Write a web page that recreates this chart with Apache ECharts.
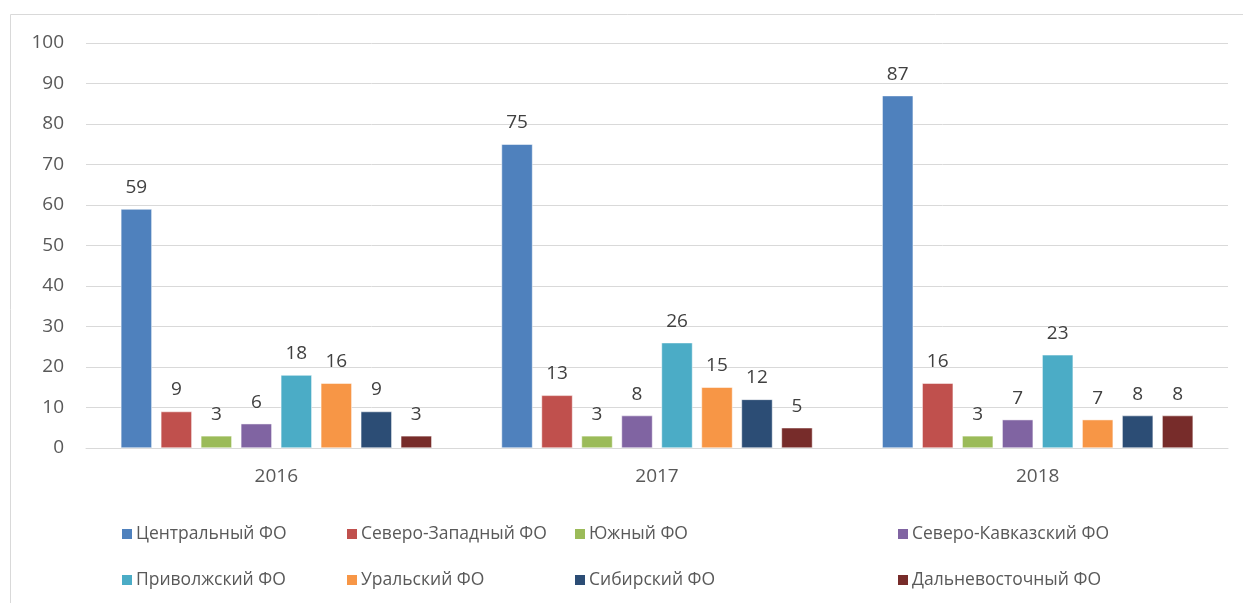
<!DOCTYPE html>
<html>
<head>
<meta charset="utf-8">
<script src="https://cdn.jsdelivr.net/npm/echarts@6/dist/echarts.min.js"></script>
<style>
  html, body { margin: 0; padding: 0; background: #fff; }
  #chart { width: 1243px; height: 603px; }
</style>
</head>
<body>
<div id="chart"></div>
<script>
// годы
var years = ['2016', '2017', '2018'];
// федеральные округа
var districts = ['Центральный ФО', 'Северо-Западный ФО', 'Южный ФО', 'Северо-Кавказский ФО',
  'Приволжский ФО', 'Уральский ФО', 'Сибирский ФО', 'Дальневосточный ФО'];
var central = [59, 75, 87];
var northWest = [9, 13, 16];
var south = [3, 3, 3];
var northCaucasus = [6, 8, 7];
var volga = [18, 26, 23];
var ural = [16, 15, 7];
var siberia = [9, 12, 8];
var farEast = [3, 5, 8];
var yTicks = [0, 10, 20, 30, 40, 50, 60, 70, 80, 90, 100];

var values = [central, northWest, south, northCaucasus, volga, ural, siberia, farEast];
var colors = ['#4F81BD', '#C0504D', '#9BBB59', '#8064A2', '#4BACC6', '#F79646', '#2C4D75', '#772C2A'];
var font = 'Open Sans';

// позиции легенды (4 колонки, 2 строки)
var legendLeft = [115, 340, 568, 891];
var legendTop = [520, 566];

var legends = districts.map(function (name, i) {
  return {
    data: [name],
    left: legendLeft[i % 4],
    top: legendTop[Math.floor(i / 4)],
    itemWidth: 12,
    itemHeight: 12,
    itemGap: 4,
    icon: 'rect',
    selectedMode: false,
    textStyle: { fontFamily: font, fontSize: 17.5, color: '#595959', padding: [0, 0, 0, -2] }
  };
});

var chart = echarts.init(document.getElementById('chart'), null, { renderer: 'canvas' });
chart.setOption({
  animation: false,
  color: colors,
  graphic: [{
    type: 'rect',
    shape: { x: 10.5, y: 14.5, width: 1250, height: 600 },
    style: { fill: 'none', stroke: '#D9D9D9', lineWidth: 1 },
    silent: true
  }],
  legend: legends,
  grid: { left: 86, right: 15, top: 43, bottom: 155 },
  xAxis: {
    type: 'category',
    data: years,
    axisLine: { lineStyle: { color: '#D9D9D9', width: 1 } },
    axisTick: { show: false },
    axisLabel: { fontFamily: font, fontSize: 19, color: '#595959', margin: 19 }
  },
  yAxis: {
    type: 'value',
    min: yTicks[0],
    max: yTicks[yTicks.length - 1],
    interval: 10,
    axisLine: { show: false },
    axisTick: { show: false },
    axisLabel: { fontFamily: font, fontSize: 19, color: '#595959', margin: 22 },
    splitLine: { lineStyle: { color: '#D9D9D9', width: 1 } }
  },
  series: districts.map(function (name, i) {
    return {
      name: name,
      type: 'bar',
      data: values[i],
      barWidth: 31,
      barGap: '29%',
      itemStyle: { borderColor: '#fff', borderWidth: 0.5 },
      label: {
        show: true,
        position: 'top',
        distance: 12,
        fontFamily: font,
        fontSize: 19,
        color: '#404040'
      }
    };
  })
});
</script>
</body>
</html>
